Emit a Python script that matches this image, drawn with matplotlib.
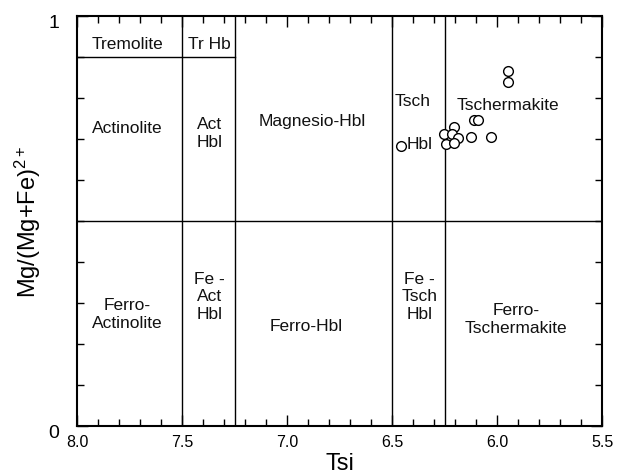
import matplotlib
matplotlib.use("Agg")
import matplotlib.pyplot as plt
import matplotlib.transforms as mtransforms
from matplotlib.ticker import MultipleLocator

plt.rcParams["font.family"] = ["Liberation Sans", "DejaVu Sans"]
plt.rcParams["mathtext.default"] = "regular"

# Amphibole analyses: Si (apfu) and Mg/(Mg+Fe2+)
tsi = [5.948, 5.948, 6.110, 6.090, 6.205, 6.252, 6.214, 6.186, 6.243, 6.205,
       6.124, 6.029, 6.457]
mg_number = [0.866, 0.839, 0.746, 0.746, 0.729, 0.712, 0.712, 0.702, 0.688, 0.690,
             0.705, 0.705, 0.683]

# Field boundaries of the classification diagram
si_boundaries = [7.5, 7.25, 6.5, 6.25]
mg_boundary = 0.5
tremolite_boundary = 0.9

# Field names with label anchor (Tsi, Mg#)
field_names = ["Tremolite", "Tr Hb", "Actinolite", "Act\nHbl", "Magnesio-Hbl",
               "Tsch", "Hbl", "Tschermakite", "Ferro-\nActinolite", "Fe -\nAct\nHbl",
               "Ferro-Hbl", "Fe -\nTsch\nHbl", "Ferro-\nTschermakite"]
field_x = [7.76, 7.37, 7.76, 7.37, 6.88, 6.40, 6.37, 5.95, 7.76, 7.37, 6.91, 6.37, 5.91]
field_y = [0.934, 0.934, 0.728, 0.716, 0.745, 0.795, 0.690, 0.784, 0.274, 0.318,
           0.245, 0.318, 0.262]

fig = plt.figure(figsize=(6.26, 4.77), dpi=100)
ax = fig.add_axes([0.123, 0.1048, 0.8387, 0.8595])

line_kw = dict(color="black", lw=1.0, zorder=1)
for xb in si_boundaries:
    ax.plot([xb, xb], [0, 1], **line_kw)
ax.plot([8.0, 5.5], [mg_boundary, mg_boundary], **line_kw)
ax.plot([8.0, 7.25], [tremolite_boundary, tremolite_boundary], **line_kw)

for name, fx, fy in zip(field_names, field_x, field_y):
    ax.text(fx, fy, name, ha="center", va="center", fontsize=12.5,
            linespacing=1.2, color="#111111", zorder=2)

ax.plot(tsi, mg_number, linestyle="none", marker="o", markersize=7,
        markerfacecolor="white", markeredgecolor="black", markeredgewidth=1.0,
        zorder=3)

ax.set_xlim(8.0, 5.5)
ax.set_ylim(0, 1)

ax.set_xticks([8.0, 7.5, 7.0, 6.5, 6.0, 5.5])
ax.set_xticklabels(["8.0", "7.5", "7.0", "6.5", "6.0", "5.5"])
ax.xaxis.set_minor_locator(MultipleLocator(0.1))
ax.set_yticks([0, 1])
ax.set_yticklabels(["0", "1"])
ax.yaxis.set_minor_locator(MultipleLocator(0.1))

ax.tick_params(axis="both", which="both", direction="in", top=True, right=True,
               color="black", width=1.0)
ax.tick_params(axis="x", which="major", length=8, labelsize=11.5, pad=6)
ax.tick_params(axis="x", which="minor", length=5)
ax.tick_params(axis="y", which="major", length=8, labelsize=14, pad=13)
ax.tick_params(axis="y", which="minor", length=5)

# nudge the y tick labels slightly downward
shift = mtransforms.ScaledTranslation(0, -3 / 72, fig.dpi_scale_trans)
for lbl in ax.get_yticklabels():
    lbl.set_transform(lbl.get_transform() + shift)

for spine in ax.spines.values():
    spine.set_linewidth(1.5)

ax.set_xlabel("Tsi", fontsize=17, labelpad=2)
ax.set_ylabel(r"Mg/(Mg+Fe)$^{2+}$", fontsize=17, labelpad=4)

fig.savefig("out.png", dpi=100)
